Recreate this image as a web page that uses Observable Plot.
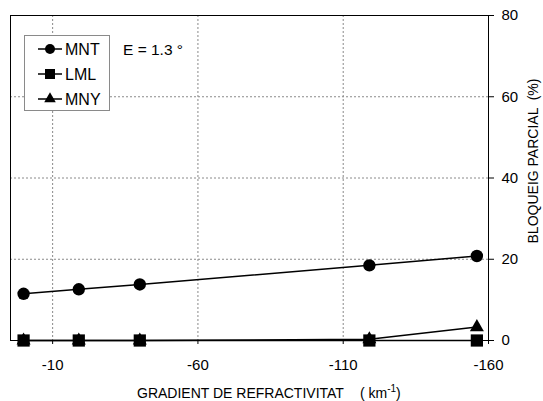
<!DOCTYPE html>
<html>
<head>
<meta charset="utf-8">
<script src="https://cdn.jsdelivr.net/npm/d3@7"></script>
<script src="https://cdn.jsdelivr.net/npm/@observablehq/plot@0.6"></script>
<style>
  html, body { margin: 0; padding: 0; background: white; }
  svg { display: block; }
</style>
</head>
<body>
<div id="chart"></div>
<script>
// Data
const gradient = [0, -19, -40, -119, -156];
const mnt = [11.5, 12.6, 13.8, 18.5, 20.8];
const lml = [0, 0, 0, 0, 0];
const mny = [0, 0, 0, 0.3, 3.3];
const seriesNames = ["MNT", "LML", "MNY"];
const xTicks = [-10, -60, -110, -160];
const yTicks = [0, 20, 40, 60, 80];
const xGrid = [-10, -60, -110];
const yGrid = [20, 40, 60];

const rows = (vals, name) => gradient.map((g, i) => ({x: g, y: vals[i], series: name}));
const dMNT = rows(mnt, "MNT");
const dLML = rows(lml, "LML");
const dMNY = rows(mny, "MNY");

const font = "'Liberation Sans', Arial, sans-serif";
const gridStyle = {stroke: "#8a8a8a", strokeOpacity: 1, strokeDasharray: "2,2", strokeWidth: 1};

const plot = Plot.plot({
  width: 543,
  height: 401,
  marginLeft: 10,
  marginRight: 55,
  marginTop: 15,
  marginBottom: 61,
  style: {fontFamily: font, background: "white", color: "black"},
  x: {domain: [4.5, -160]},
  y: {domain: [0, 80]},
  marks: [
    Plot.ruleX(xGrid, gridStyle),
    Plot.ruleY(yGrid, gridStyle),
    Plot.axisX({ticks: xTicks, tickSize: 4, tickPadding: 15, fontSize: 15, label: null, tickFormat: d => String(d)}),
    Plot.axisY({anchor: "right", ticks: yTicks, tickSize: 5, tickPadding: 8, fontSize: 15, label: null, tickFormat: d => String(d)}),
    Plot.frame({stroke: "black", strokeWidth: 1}),
    Plot.line(dMNT, {x: "x", y: "y", stroke: "black", strokeWidth: 1.5}),
    Plot.line(dLML, {x: "x", y: "y", stroke: "black", strokeWidth: 1.5}),
    Plot.line(dMNY, {x: "x", y: "y", stroke: "black", strokeWidth: 1.5}),
    Plot.dot(dMNT, {x: "x", y: "y", symbol: "circle", r: 6.2, fill: "black", stroke: "none"}),
    Plot.dot(dLML, {x: "x", y: "y", symbol: "square", r: 6.9, fill: "black", stroke: "none"}),
    Plot.dot(dMNY, {x: "x", y: "y", symbol: "triangle", r: 5.2, fill: "black", stroke: "none"})
  ]
});

document.getElementById("chart").appendChild(plot);

const svg = d3.select(plot);

// Axis titles
const xl = svg.append("text")
  .attr("x", 137).attr("y", 398).attr("text-anchor", "start")
  .attr("font-family", font).attr("font-size", 14).attr("fill", "black");
xl.append("tspan").text("GRADIENT DE REFRACTIVITAT");
xl.append("tspan").attr("dx", 16).text("( km");
xl.append("tspan").attr("dy", -6).attr("font-size", 10).text("-1");
xl.append("tspan").attr("dy", 6).text(")");

svg.append("text")
  .attr("transform", "translate(538,161) rotate(-90)")
  .attr("text-anchor", "middle")
  .attr("font-family", font).attr("font-size", 14).attr("fill", "black")
  .attr("xml:space", "preserve")
  .text("BLOQUEIG PARCIAL  (%)");

// Legend
const lg = svg.append("g").attr("text-anchor", "start");
lg.append("rect").attr("x", 24.5).attr("y", 35.5).attr("width", 85).attr("height", 75)
  .attr("fill", "white").attr("stroke", "#8a8a8a").attr("stroke-width", 1);
const symbols = [d3.symbolCircle, d3.symbolSquare, d3.symbolTriangle];
const sizes = [Math.PI * 5 * 5, 100, Math.PI * 4.3 * 4.3];
seriesNames.forEach((name, i) => {
  const cy = 49 + i * 25;
  lg.append("line").attr("x1", 38).attr("x2", 62).attr("y1", cy).attr("y2", cy)
    .attr("stroke", "black").attr("stroke-width", 1.5);
  lg.append("path").attr("d", d3.symbol(symbols[i], sizes[i])())
    .attr("transform", `translate(50,${cy})`).attr("fill", "black");
  lg.append("text").attr("x", 65).attr("y", cy).attr("dy", "0.36em").attr("text-anchor", "start")
    .attr("font-family", font).attr("font-size", 16).attr("fill", "black").text(name);
});
svg.append("text").attr("x", 123).attr("y", 49).attr("dy", "0.36em").attr("text-anchor", "start")
  .attr("font-family", font).attr("font-size", 15.5).attr("fill", "black").text("E = 1.3 °");
</script>
</body>
</html>
